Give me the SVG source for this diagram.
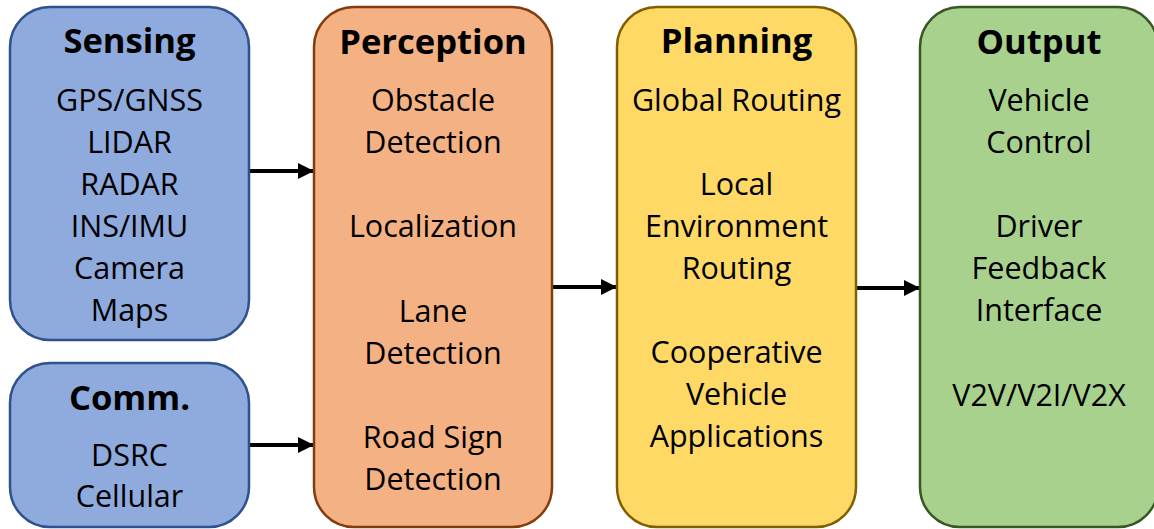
<svg xmlns="http://www.w3.org/2000/svg" width="1154" height="529" viewBox="0 0 1154 529">
<defs>
<style>
text{font-family:"Open Sans",Lato,sans-serif;fill:#000;text-anchor:middle}
.t{font-size:34.6px;font-weight:bold}
.b{font-size:30.5px}
.box{stroke-width:2.5}
.con{stroke:#000;stroke-width:4;fill:none}
</style>
<marker id="a" markerWidth="16" markerHeight="16" refX="16" refY="8" orient="auto" markerUnits="userSpaceOnUse" viewBox="0 0 16 16">
<path d="M0,0 L16,8 L0,16 z" fill="#000"/>
</marker>
</defs>
<rect width="1154" height="529" fill="#fff"/>
<g id="connectors">
<line class="con" x1="249" y1="171" x2="314" y2="171" marker-end="url(#a)"/>
<line class="con" x1="249" y1="445" x2="314" y2="445" marker-end="url(#a)"/>
<line class="con" x1="552" y1="287" x2="617" y2="287" marker-end="url(#a)"/>
<line class="con" x1="856" y1="288" x2="920" y2="288" marker-end="url(#a)"/>
</g>
<g id="sensing">
<rect class="box" x="10" y="7" width="239" height="333" rx="40" fill="#8FAADC" stroke="#2F528F"/>
<text class="t" x="129.5" y="53">Sensing</text>
<text class="b" x="129.5" y="111">GPS/GNSS</text>
<text class="b" x="129.5" y="153">LIDAR</text>
<text class="b" x="129.5" y="195">RADAR</text>
<text class="b" x="129.5" y="237">INS/IMU</text>
<text class="b" x="129.5" y="279">Camera</text>
<text class="b" x="129.5" y="321">Maps</text>
</g>
<g id="comm">
<rect class="box" x="10" y="363" width="239" height="164" rx="40" fill="#8FAADC" stroke="#2F528F"/>
<text class="t" x="129.5" y="410">Comm.</text>
<text class="b" x="129.5" y="466">DSRC</text>
<text class="b" x="129.5" y="507">Cellular</text>
</g>
<g id="perception">
<rect class="box" x="314" y="7" width="238" height="520" rx="40" fill="#F4B183" stroke="#843C0C"/>
<text class="t" x="433" y="54">Perception</text>
<text class="b" x="433" y="111">Obstacle</text>
<text class="b" x="433" y="153">Detection</text>
<text class="b" x="433" y="237">Localization</text>
<text class="b" x="433" y="322">Lane</text>
<text class="b" x="433" y="364">Detection</text>
<text class="b" x="433" y="448">Road Sign</text>
<text class="b" x="433" y="490">Detection</text>
</g>
<g id="planning">
<rect class="box" x="617" y="7" width="239" height="520" rx="40" fill="#FFD966" stroke="#7F6000"/>
<text class="t" x="736.5" y="53">Planning</text>
<text class="b" x="736.5" y="111">Global Routing</text>
<text class="b" x="736.5" y="195">Local</text>
<text class="b" x="736.5" y="237">Environment</text>
<text class="b" x="736.5" y="279">Routing</text>
<text class="b" x="736.5" y="363">Cooperative</text>
<text class="b" x="736.5" y="405">Vehicle</text>
<text class="b" x="736.5" y="447">Applications</text>
</g>
<g id="output">
<rect class="box" x="920" y="7" width="238" height="520" rx="40" fill="#A9D18E" stroke="#385723"/>
<text class="t" x="1039" y="54">Output</text>
<text class="b" x="1039" y="111">Vehicle</text>
<text class="b" x="1039" y="153">Control</text>
<text class="b" x="1039" y="237">Driver</text>
<text class="b" x="1039" y="279">Feedback</text>
<text class="b" x="1039" y="321">Interface</text>
<text class="b" x="1039" y="406">V2V/V2I/V2X</text>
</g>
</svg>
